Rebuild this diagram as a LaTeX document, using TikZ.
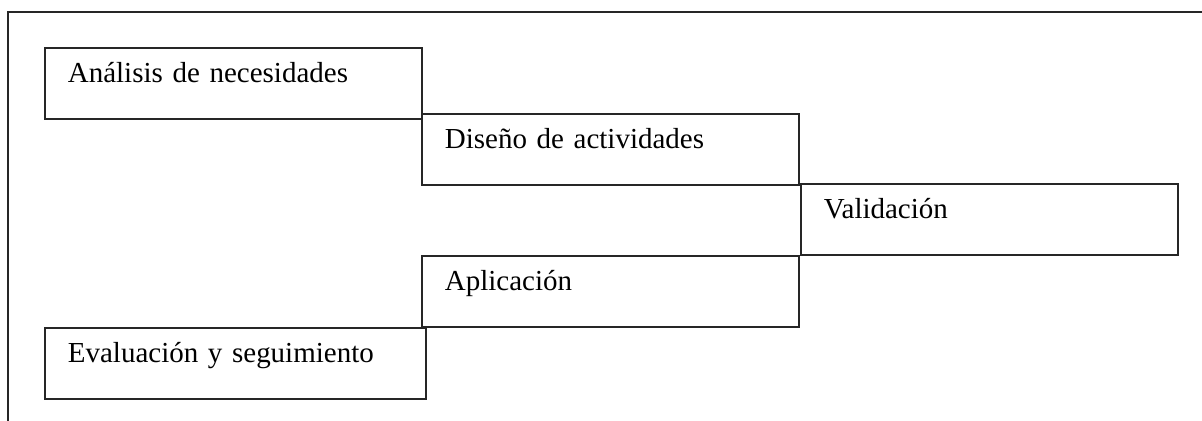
\documentclass[tikz,border=0pt]{standalone}
\usepackage{fontspec}
\setmainfont{Liberation Serif}

\tikzset{
    fase/.style={draw=black!85, line width=1pt, anchor=north west,
        inner xsep=0.46cm, inner ysep=0pt, text width=6.62cm,
        text height=0.7cm, text depth=0.72cm, align=left,
        font=\fontsize{16.5}{19}\selectfont},
    marco/.style={draw=black!85, line width=1pt}
}

\begin{document}
\begin{tikzpicture}[x=0.02cm, y=-0.02cm]
    \useasboundingbox (0, 0) rectangle (1202, 420);
    \draw[marco] (8, 440) -- (8, 12) -- (1230, 12);

    \node[fase] (analisis) at (44, 47) {Análisis de necesidades};
    \node[fase] (diseno) at (421, 113) {Diseño de actividades};
    \node[fase] (validacion) at (800, 183) {Validación};
    \node[fase] (aplicacion) at (421, 255) {Aplicación};
    \node[fase, text width=6.7cm] (evaluacion) at (44, 327) {Evaluación y seguimiento};
\end{tikzpicture}
\end{document}
